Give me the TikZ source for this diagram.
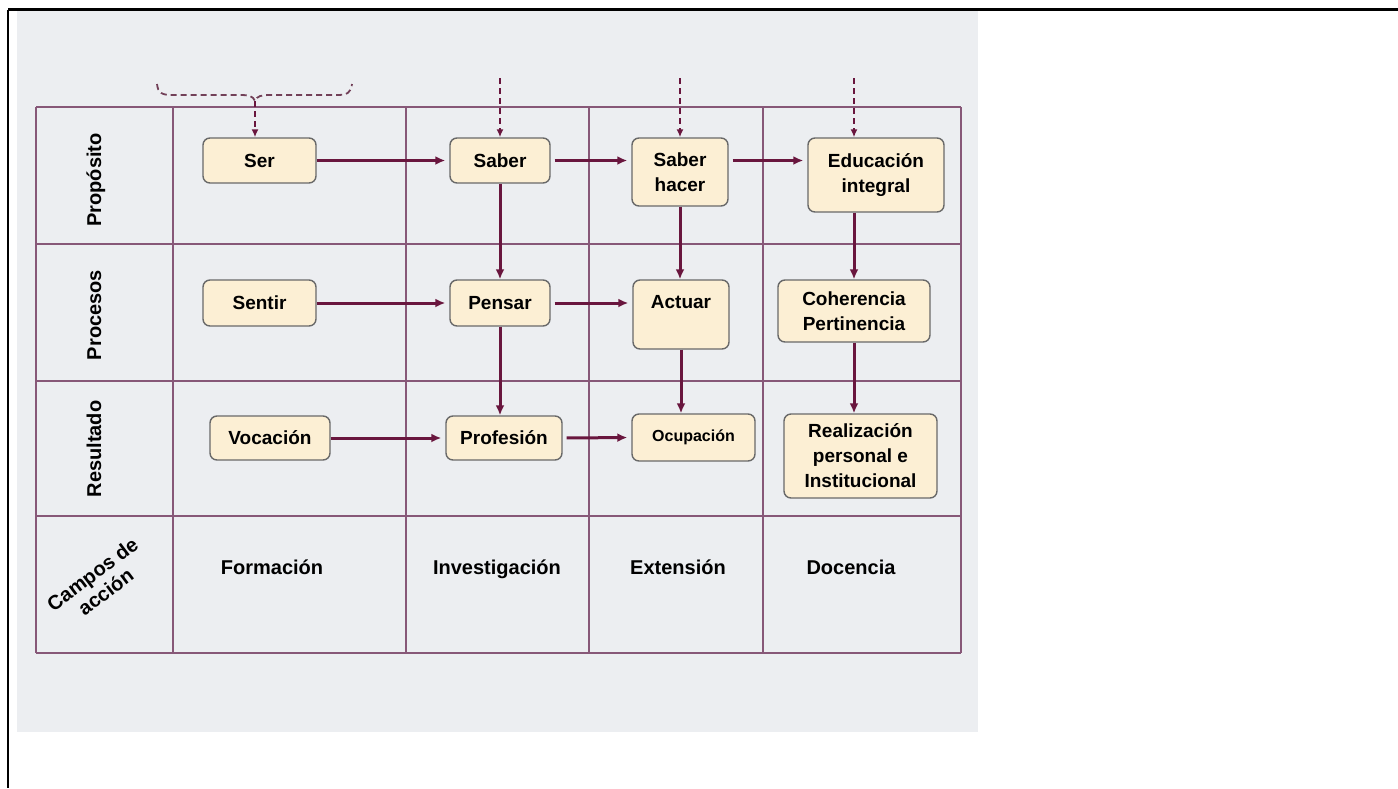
\documentclass[tikz,border=0pt]{standalone}
\usepackage{fontspec}
\setmainfont{Liberation Sans}
\usetikzlibrary{arrows.meta}

\definecolor{vino}{RGB}{105,22,62}
\definecolor{rejilla}{RGB}{135,88,120}
\definecolor{crema}{RGB}{252,239,212}
\definecolor{fondo}{RGB}{236,238,241}
\definecolor{borde}{RGB}{105,105,105}

\tikzset{
  caja/.style={draw=borde, line width=0.7pt, fill=crema, rounded corners=3.5pt,
    align=center, inner sep=0pt, font=\bfseries\fontsize{9.5}{12.5}\selectfont},
  flujo/.style={draw=vino, line width=1.5pt, -{Latex[length=5pt,width=4.5pt]}},
  dflujo/.style={draw=vino, line width=0.9pt, dash pattern=on 3pt off 2pt,
    -{Latex[length=4pt,width=3.5pt]}},
  linea/.style={draw=rejilla, line width=0.6pt},
  etiqueta/.style={font=\bfseries\fontsize{10}{12}\selectfont, align=center,
    text height=1.6ex, text depth=0.45ex},
}

\begin{document}
\begin{tikzpicture}[x=0.5pt,y=-0.5pt]
\useasboundingbox (0,0) rectangle (1398,788);

% fondo y marco
\fill[fondo] (17,11) rectangle (978,732);
\draw[line width=1.2pt] (8,9.5) -- (1398,9.5);
\draw[line width=1.2pt] (8,9.5) -- (8,788);

% rejilla de la tabla
\foreach \y in {107,244,381,516,653}
  \draw[linea] (36,\y) -- (961,\y);
\foreach \x in {36,173,406,589,763,961}
  \draw[linea] (\x,107) -- (\x,653);

% filas
\node[etiqueta, rotate=90] (proposito) at (95,180) {Propósito};
\node[etiqueta, rotate=90] (procesos) at (95,315) {Procesos};
\node[etiqueta, rotate=90] (resultado) at (95,449) {Resultado};
\node[font=\bfseries\fontsize{10}{11}\selectfont, align=center, rotate=37]
  (campos) at (99,583) {Campos de\\acción};

% campos de accion
\node[etiqueta] (formacion) at (272,568) {Formación};
\node[etiqueta] (investigacion) at (497,568) {Investigación};
\node[etiqueta] (extension) at (678,568) {Extensión};
\node[etiqueta] (docencia) at (851,568) {Docencia};

% cajas
\node[caja, minimum width=56.5pt, minimum height=22.5pt] (ser) at (259.5,160.5) {Ser};
\node[caja, minimum width=50pt, minimum height=22.5pt] (saber) at (500,160.5) {Saber};
\node[caja, minimum width=48pt, minimum height=34pt] (saberhacer) at (680,172) {Saber\\hacer};
\node[caja, minimum width=68pt, minimum height=37pt] (educacion) at (876,175) {Educación\\integral};

\node[caja, minimum width=56.5pt, minimum height=23pt] (sentir) at (259.5,303) {Sentir};
\node[caja, minimum width=50pt, minimum height=23pt] (pensar) at (500,303) {Pensar};
\node[caja, minimum width=48pt, minimum height=34.5pt] (actuar) at (681,314.5) {Actuar\\\mbox{}};
\node[caja, minimum width=76pt, minimum height=31pt] (coherencia) at (854,311) {Coherencia\\Pertinencia};

\node[caja, minimum width=60pt, minimum height=22pt] (vocacion) at (270,438) {Vocación};
\node[caja, minimum width=58pt, minimum height=22pt] (profesion) at (504,438) {Profesión};
\node[caja, minimum width=61.5pt, minimum height=23.5pt,
  font=\bfseries\fontsize{8}{10}\selectfont] (ocupacion) at (693.5,437.5) {Ocupación};
\node[caja, minimum width=76.5pt, minimum height=42pt] (realizacion) at (860.5,456) {Realización\\personal e\\Institucional};

% llave y entradas punteadas
\coordinate (llave) at (255,101);
\draw[draw=vino!60!gray, line width=0.9pt, dash pattern=on 3pt off 2pt]
  (157,84) .. controls (158,93) and (162,95) .. (172,95) -- (240,95)
  .. controls (249,95) and (253,96) .. (llave)
  .. controls (257,96) and (261,95) .. (270,95) -- (337,95)
  .. controls (347,95) and (351,93) .. (352,84);
\coordinate (entrada1) at (500,78);
\coordinate (entrada2) at (680,78);
\coordinate (entrada3) at (854,78);
\draw[dflujo] (llave) -- (llave |- ser.north);
\draw[dflujo] (entrada1) -- (saber.north);
\draw[dflujo] (entrada2) -- (saberhacer.north);
\draw[dflujo] (entrada3) -- (entrada3 |- educacion.north);

% flujos horizontales
\draw[flujo, shorten >=2pt] (ser.east) -- (saber.west);
\draw[flujo, shorten >=2pt, shorten <=2pt] (saber.east) -- (saber.east -| saberhacer.west);
\draw[flujo, shorten >=2pt, shorten <=2pt] (saberhacer.east |- saber.east) -- (educacion.west |- saber.east);
\draw[flujo, shorten >=2pt] (sentir.east) -- (pensar.west);
\draw[flujo, shorten >=2pt, shorten <=2pt] (pensar.east) -- (pensar.east -| actuar.west);
\draw[flujo, shorten >=2pt] (vocacion.east) -- (profesion.west);
\draw[flujo, shorten >=2pt, shorten <=2pt] (profesion.east) -- (ocupacion.west);

% flujos verticales
\draw[flujo] (saber.south) -- (pensar.north);
\draw[flujo] (saberhacer.south) -- (saberhacer.south |- actuar.north);
\draw[flujo] (entrada3 |- educacion.south) -- (coherencia.north);
\draw[flujo] (pensar.south) -- (pensar.south |- profesion.north);
\draw[flujo] (actuar.south) -- (actuar.south |- ocupacion.north);
\draw[flujo] (coherencia.south) -- (coherencia.south |- realizacion.north);
\end{tikzpicture}
\end{document}
